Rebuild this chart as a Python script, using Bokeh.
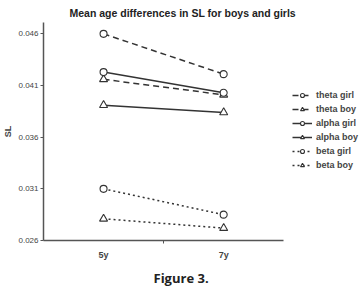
from bokeh.plotting import figure
from bokeh.models import Legend, LegendItem, FixedTicker, Title
from bokeh.embed import file_html
from bokeh.resources import INLINE

ages = ["5y", "7y"]
theta_girl = [0.0460, 0.0421]
theta_boy = [0.0416, 0.0401]
alpha_girl = [0.0423, 0.0403]
alpha_boy = [0.0391, 0.0384]
beta_girl = [0.0310, 0.0285]
beta_boy = [0.0281, 0.0272]
y_ticks = [0.026, 0.031, 0.036, 0.041, 0.046]

FONT = "Liberation Sans"
INK = "#333333"

# category positions on a linear scale (one unit per category, centred at i + 0.5)
xpos = [i + 0.5 for i in range(len(ages))]
n_cat = len(ages)

p = figure(width=359, height=291, x_range=(0, n_cat * 317 / 241), y_range=(0.026, 0.0471),
           output_backend="svg", toolbar_location=None,
           min_border_left=42, min_border_right=0, min_border_top=22, min_border_bottom=48)
p.outline_line_color = None
p.xgrid.visible = False
p.ygrid.visible = False

p.yaxis.ticker = FixedTicker(ticks=y_ticks)
p.yaxis.major_label_overrides = {t: f"{t:.3f}" for t in y_ticks}
p.yaxis.minor_tick_line_color = None
p.yaxis.major_tick_in = 0
p.yaxis.major_tick_out = 3
p.yaxis.major_label_standoff = 2
p.yaxis.major_label_text_font = FONT
p.yaxis.major_label_text_font_size = "8px"
p.yaxis.major_label_text_color = "#444444"
p.yaxis.axis_label = "SL"
p.yaxis.axis_label_text_font = FONT
p.yaxis.axis_label_text_font_style = "bold"
p.yaxis.axis_label_text_font_size = "9px"
p.yaxis.axis_label_standoff = 2

p.xaxis.ticker = FixedTicker(ticks=xpos, minor_ticks=[1.0])
p.xaxis.major_label_overrides = {x: a for x, a in zip(xpos, ages)}
p.xaxis.bounds = (0, n_cat)
p.xaxis.major_tick_line_color = None
p.xaxis.minor_tick_line_color = "#555555"
p.xaxis.minor_tick_in = 0
p.xaxis.minor_tick_out = 3
p.xaxis.major_label_text_font = FONT
p.xaxis.major_label_text_font_style = "bold"
p.xaxis.major_label_text_font_size = "9px"
p.xaxis.major_label_standoff = 3
for ax in (p.xaxis, p.yaxis):
    ax.axis_line_color = "#555555"
    ax.axis_line_width = 1.5
p.yaxis.major_tick_line_color = "#555555"

series = [
    ("theta girl", theta_girl, "circle", "dashed"),
    ("theta boy", theta_boy, "triangle", "dashed"),
    ("alpha girl", alpha_girl, "circle", "solid"),
    ("alpha boy", alpha_boy, "triangle", "solid"),
    ("beta girl", beta_girl, "circle", "dotted"),
    ("beta boy", beta_boy, "triangle", "dotted"),
]
dash_map = {"dashed": "6 4", "solid": "solid", "dotted": "2 3"}
items = []
for name, vals, marker, dash in series:
    r1 = p.line(xpos, vals, line_color=INK, line_width=1.5, line_dash=dash_map[dash])
    r2 = p.scatter(xpos, vals, marker=marker, size=8 if marker == "triangle" else 7,
                   line_color=INK, fill_color="white", line_width=1.1)
    items.append(LegendItem(label=name, renderers=[r1, r2]))

legend = Legend(items=items, location=(249, 70), background_fill_alpha=0,
                border_line_color=None, label_text_font=FONT, label_text_font_style="bold",
                label_text_font_size="9px", label_height=10, glyph_height=10, glyph_width=20,
                spacing=4, padding=0, margin=0, label_standoff=4)
p.add_layout(legend)

p.title = Title(text="Mean age differences in SL for boys and girls", align="left",
                offset=26, text_font=FONT, text_font_style="bold", text_font_size="10.5px",
                text_color="#222222", standoff=7)
p.add_layout(Title(text="Figure 3.", align="left", offset=110, text_font="Open Sans",
                   text_font_style="bold", text_font_size="13px", text_color="#222222",
                   standoff=9), "below")

open("out.html", "w").write(file_html(p, INLINE))
